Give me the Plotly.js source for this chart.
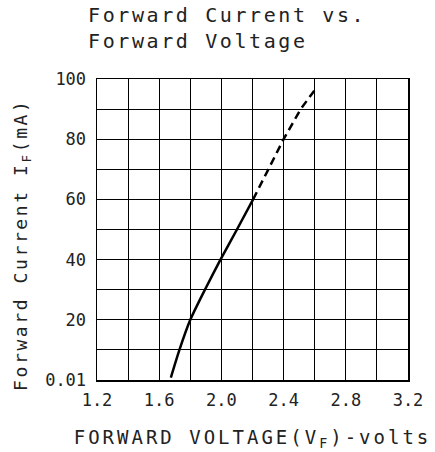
<!DOCTYPE html>
<html>
<head>
<meta charset="utf-8">
<script src="https://cdn.plot.ly/plotly-3.0.1.min.js"></script>
<style>
html,body{margin:0;padding:0;background:#fff;}
#chart{width:435px;height:452px;}
.annotation-text {letter-spacing:2.6px;}
.xtitle {letter-spacing:3px;}
</style>
</head>
<body>
<div id="chart"></div>
<script>
// Measured curve (solid part)
const solidVolts = [1.675, 1.73, 1.80, 1.894, 1.994, 2.10, 2.204];
const solidCurrent = [0.8, 10, 20, 30, 40, 50, 60];
// Extrapolated curve (dashed part)
const dashVolts = [2.204, 2.30, 2.40, 2.51, 2.61];
const dashCurrent = [60, 70, 80, 90, 97];
// Ticks
const xTickVals = [1.2, 1.6, 2.0, 2.4, 2.8, 3.2];
const xTickText = ['1.2', '1.6', '2.0', '2.4', '2.8', '3.2'];
const xGridVals = [1.4, 1.8, 2.2, 2.6, 3.0];
const yTickVals = [0, 20, 40, 60, 80, 100];
const yTickText = ['0.01', '20', '40', '60', '80', '100'];
const yGridVals = [10, 30, 50, 70, 90];
const titleText = 'Forward Current vs.<br>Forward Voltage';
const yTitleText = 'Forward Current I<sub>F</sub>(mA)';
const xTitleText = 'FORWARD VOLTAGE(V<sub>F</sub>)-volts';

const FONT = 'DejaVu Sans Mono, monospace';

const traces = [
  {x: solidVolts, y: solidCurrent, mode: 'lines', type: 'scatter',
   line: {color: '#000', width: 2.5, shape: 'spline', smoothing: 0.6}, hoverinfo: 'skip'},
  {x: dashVolts, y: dashCurrent, mode: 'lines', type: 'scatter',
   line: {color: '#000', width: 2.5, dash: '8px,5px'}, hoverinfo: 'skip'}
];

const axisCommon = {
  showline: true, mirror: true, linecolor: '#000', linewidth: 1.5,
  showgrid: true, gridcolor: '#000', gridwidth: 1,
  zeroline: false, ticks: '', tickmode: 'array',
  tickfont: {family: FONT, size: 17, color: '#222'}
};

const layout = {
  width: 435, height: 452,
  margin: {l: 97, r: 27, t: 79, b: 72},
  paper_bgcolor: '#fff', plot_bgcolor: '#fff',
  showlegend: false,
  annotations: [{
    text: titleText, showarrow: false,
    font: {family: FONT, size: 20, color: '#222'},
    xref: 'paper', x: -0.035, xanchor: 'left', align: 'left',
    yref: 'paper', y: 1.26, yanchor: 'top'
  }, {
    text: yTitleText, showarrow: false, textangle: -90,
    font: {family: FONT, size: 18, color: '#222'},
    xref: 'paper', x: -0.241, xanchor: 'center',
    yref: 'paper', y: 0.449, yanchor: 'middle'
  }],
  xaxis: Object.assign({}, axisCommon, {
    range: [1.2, 3.2], tickvals: xTickVals, ticktext: xTickText,
    minor: {tickmode: 'array', tickvals: xGridVals, showgrid: true, gridcolor: '#000', gridwidth: 1, ticks: ''},
    ticklabelstandoff: 4,
    title: {text: xTitleText, font: {family: FONT, size: 19, color: '#222'}, standoff: 22}
  }),
  yaxis: Object.assign({}, axisCommon, {
    range: [0, 100], tickvals: yTickVals, ticktext: yTickText,
    minor: {tickmode: 'array', tickvals: yGridVals, showgrid: true, gridcolor: '#000', gridwidth: 1, ticks: ''},
    ticklabelstandoff: 6
  })
};

Plotly.newPlot('chart', traces, layout, {displayModeBar: false, staticPlot: true});
</script>
</body>
</html>
